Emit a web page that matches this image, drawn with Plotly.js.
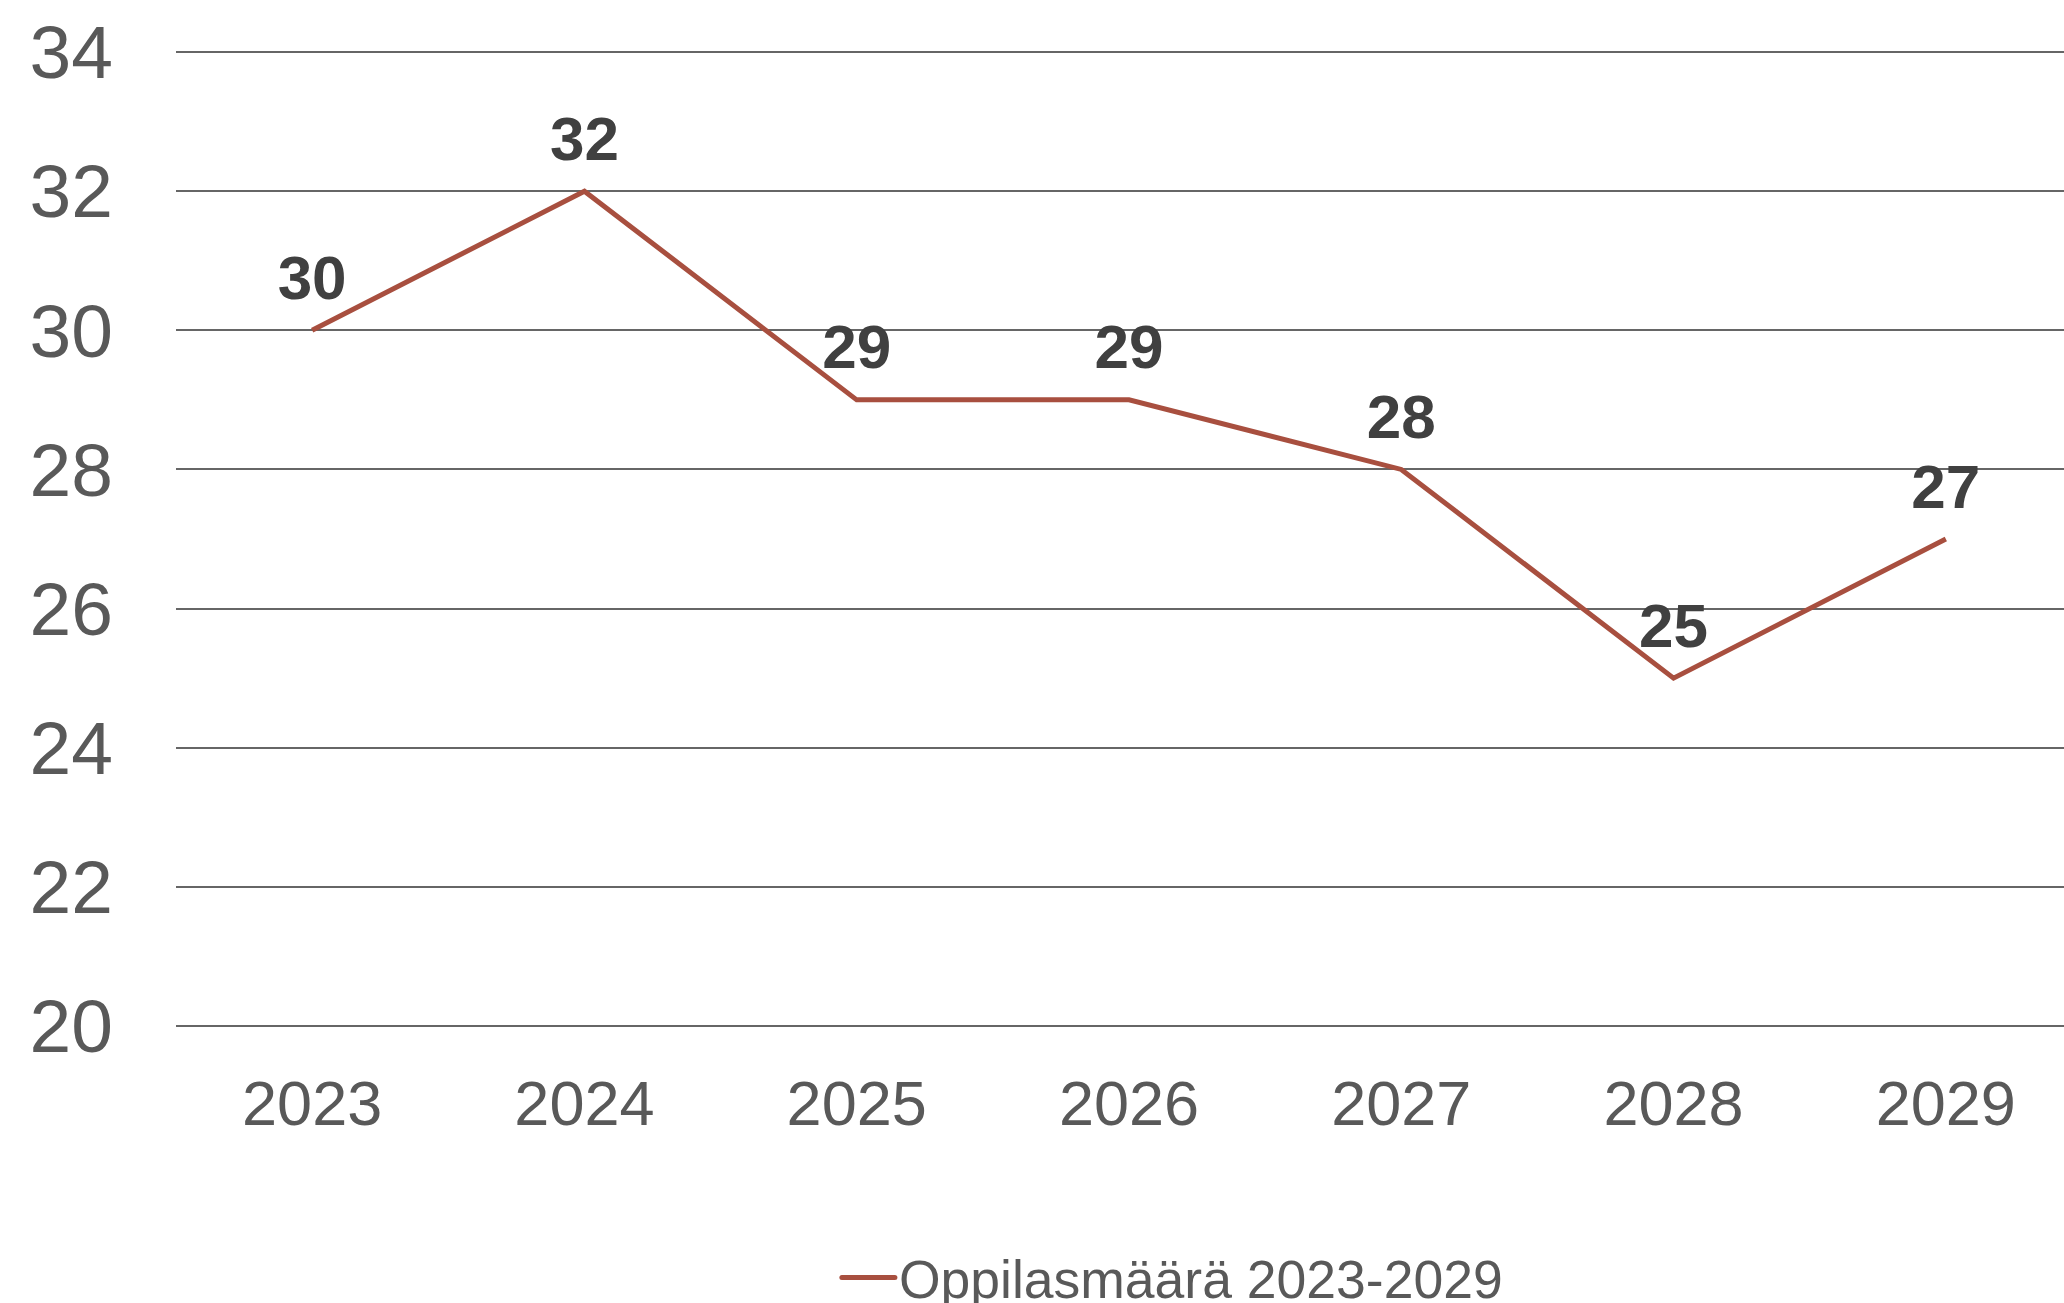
<!DOCTYPE html>
<html>
<head>
<meta charset="utf-8">
<script src="https://cdn.plot.ly/plotly-3.0.1.min.js"></script>
<style>html,body{margin:0;padding:0;background:#fff;overflow:hidden;}</style>
</head>
<body>
<div id="chart" style="width:2064px;height:1303px;"></div>
<script>
const years = ['2023','2024','2025','2026','2027','2028','2029'];
const students = [30, 32, 29, 29, 28, 25, 27];
const seriesName = 'Oppilasmäärä 2023-2029';
const yTicks = [20, 22, 24, 26, 28, 30, 32, 34];

const lineTrace = {
  x: years,
  y: students,
  type: 'scatter',
  mode: 'lines',
  name: seriesName,
  line: {color: '#A84F3F', width: 5},
  hoverinfo: 'skip'
};

const labelTrace = {
  x: years,
  y: students,
  type: 'scatter',
  mode: 'markers+text',
  showlegend: false,
  text: students.map(String),
  textposition: 'top center',
  textfont: {family: 'Liberation Sans, Arial, sans-serif', size: 62, color: '#404040', weight: 'bold'},
  marker: {size: 24, opacity: 0, color: '#A84F3F'},
  cliponaxis: false,
  hoverinfo: 'skip'
};

const layout = {
  width: 2064,
  height: 1303,
  margin: {l: 176, r: 0, t: 51, b: 276, autoexpand: false},
  paper_bgcolor: '#ffffff',
  plot_bgcolor: '#ffffff',
  font: {family: 'Liberation Sans, Arial, sans-serif', color: '#595959'},
  xaxis: {
    type: 'category',
    range: [-0.5, 6.434],
    showgrid: false,
    zeroline: false,
    showline: false,
    ticks: '',
    tickangle: 0,
    automargin: false,
    tickfont: {size: 63, color: '#595959'},
    ticklabelstandoff: 34
  },
  yaxis: {
    range: [19.985, 34.015],
    tickvals: yTicks,
    ticktext: yTicks.map(String),
    showgrid: true,
    gridcolor: '#666666',
    gridwidth: 2,
    zeroline: false,
    showline: false,
    ticks: '',
    automargin: false,
    tickfont: {size: 75, color: '#595959'},
    ticklabelstandoff: 62
  },
  showlegend: true,
  legend: {
    orientation: 'h',
    x: 0.3617,
    xanchor: 'left',
    y: -0.257,
    yanchor: 'middle',
    font: {size: 53.5, color: '#595959'},
    bgcolor: 'rgba(0,0,0,0)'
  }
};

Plotly.newPlot('chart', [lineTrace, labelTrace], layout, {displayModeBar: false, staticPlot: true}).then(function (gd) {
  // longer, thicker legend swatch as in the reference
  gd.querySelectorAll('.legend [clip-path]').forEach(function (el) {
    el.removeAttribute('clip-path');
  });
  gd.querySelectorAll('.legend .legendlines path').forEach(function (p) {
    p.setAttribute('d', 'M-17,0h53');
    p.style.strokeWidth = '5px';
    p.style.strokeLinecap = 'round';
  });
});
</script>
</body>
</html>
